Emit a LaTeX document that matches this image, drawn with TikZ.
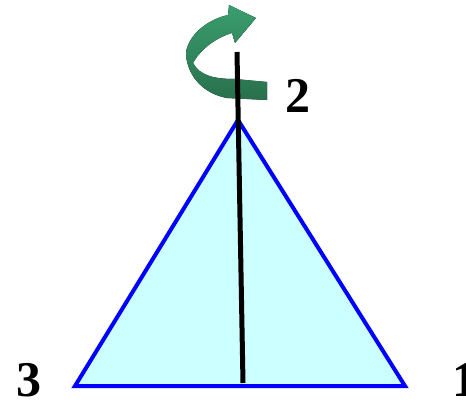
\documentclass[tikz,border=0pt]{standalone}
\usepackage{fontspec}
\setmainfont{Liberation Serif}
\definecolor{trifill}{RGB}{204,255,255}
\definecolor{triedge}{RGB}{0,0,255}
\definecolor{arrtop}{RGB}{58,158,110}
\definecolor{arrbot}{RGB}{40,112,76}
\begin{document}
\begin{tikzpicture}[x=1pt,y=-1pt,
  edge/.style={draw=triedge,line width=4pt,line join=miter,fill=trifill},
  axisline/.style={line width=5pt,black},
  lbl/.style={font=\bfseries\fontsize{50}{50}\selectfont,anchor=base,inner sep=0pt},
  rotarrow/.style={top color=arrtop, bottom color=arrbot}]
\useasboundingbox (0,0) rectangle (466,405);
\coordinate (v2) at (238,120);
\coordinate (v3) at (75,386);
\coordinate (v1) at (405,386);
\path[edge] (v2) -- (v3) -- (v1) -- cycle;
\fill[rotarrow]
  (267,100) -- (227,98) .. controls (205,94) and (188,78) .. (186,55)
  .. controls (186,38) and (205,20) .. (228,15) -- (229,5) -- (256,18) -- (235,43) -- (232,33)
  .. controls (215,38) and (200,50) .. (193,63)
  .. controls (200,76) and (215,79) .. (235,79) -- (267,82) -- cycle;
\coordinate (atop) at (237,52);
\coordinate (abot) at (243,383);
\draw[axisline] (atop) -- (abot);
\node[lbl] (l2) at (298,112) {2};
\node[lbl] (l3) at (29,396) {3};
\node[lbl] (l1) at (465,396) {1};
\end{tikzpicture}
\end{document}
